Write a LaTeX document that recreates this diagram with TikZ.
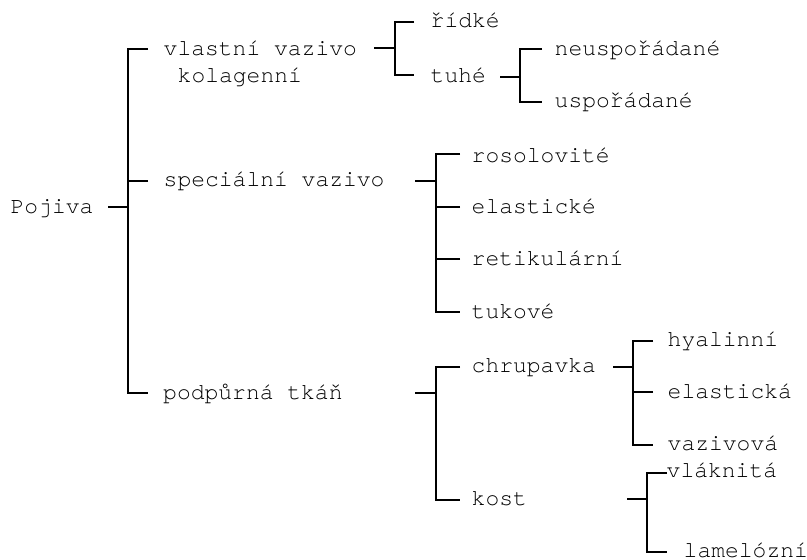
\documentclass[tikz,border=0pt]{standalone}
\usepackage{fontspec}
\newfontfamily\treemono{TeX Gyre Cursor}
\begin{document}
\begin{tikzpicture}[x=1pt,y=-1pt,
  lbl/.style={anchor=base west,inner sep=0pt,font=\treemono\fontsize{23}{27}\selectfont},
  br/.style={line width=1.8pt,line join=miter}]
\useasboundingbox (0,0) rectangle (807,560);
% ---------- labels ----------
\node[lbl] (pojiva) at (10.5,213) {Pojiva};
\node[lbl] (vlastni) at (163.5,55) {vlastní vazivo};
\node[lbl] (kolag) at (177.5,82) {kolagenní};
\node[lbl] (special) at (163.5,186) {speciální vazivo};
\node[lbl] (podpur) at (163,399) {podpůrná tkáň};
\node[lbl] (ridke) at (430.5,27) {řídké};
\node[lbl] (tuhe) at (430.5,82) {tuhé};
\node[lbl] (neusp) at (554.5,55) {neuspořádané};
\node[lbl] (usp) at (554.5,107) {uspořádané};
\node[lbl] (rosol) at (471.5,162) {rosolovité};
\node[lbl] (elastic) at (471.5,213) {elastické};
\node[lbl] (retik) at (471.5,265) {retikulární};
\node[lbl] (tukove) at (471.5,318) {tukové};
\node[lbl] (chrup) at (471.5,372) {chrupavka};
\node[lbl] (kost) at (471.5,505) {kost};
\node[lbl] (hyal) at (667.5,346) {hyalinní};
\node[lbl] (elasta) at (667.5,398) {elastická};
\node[lbl] (vaziv) at (667.5,450) {vazivová};
\node[lbl] (vlakn) at (666.5,477) {vláknitá};
\node[lbl] (lamel) at (683.5,557) {lamelózní};
% ---------- junction coordinates ----------
% level 0
\coordinate (a0) at (108,207);
\coordinate (a1) at (128,207);
\coordinate (a2) at (148,49);
\coordinate (a3) at (148,181);
\coordinate (a4) at (148,393);
% vlastni vazivo
\coordinate (b0) at (374,48);
\coordinate (b1) at (395,48);
\coordinate (b2) at (414,22);
\coordinate (b3) at (414,75);
% tuhe
\coordinate (c0) at (500,77);
\coordinate (c1) at (520,77);
\coordinate (c2) at (542,49);
\coordinate (c3) at (542,102);
% specialni vazivo
\coordinate (d0) at (415,181);
\coordinate (d1) at (436,181);
\coordinate (d2) at (460,154);
\coordinate (d3) at (460,207);
\coordinate (d4) at (460,259);
\coordinate (d5) at (460,312);
% podpurna tkan
\coordinate (e0) at (415,393);
\coordinate (e1) at (436,393);
\coordinate (e2) at (460,367);
\coordinate (e3) at (460,500);
% chrupavka
\coordinate (f0) at (613,367);
\coordinate (f1) at (633,367);
\coordinate (f2) at (653,341);
\coordinate (f3) at (653,392);
\coordinate (f4) at (653,445);
% kost
\coordinate (g0) at (627,499);
\coordinate (g1) at (647,499);
\coordinate (g2) at (667,473);
\coordinate (g3) at (667,552);
% ---------- branches ----------
\draw[br] (a0) -- (a1);
\draw[br] (a2) -| (a1 |- a4) -- (a4);
\draw[br] (a3) -- (a1 |- a3);

\draw[br] (b0) -- (b1);
\draw[br] (b2) -| (b1 |- b3) -- (b3);

\draw[br] (c0) -- (c1);
\draw[br] (c2) -| (c1 |- c3) -- (c3);

\draw[br] (d0) -- (d1);
\draw[br] (d2) -| (d1 |- d5) -- (d5);
\draw[br] (d3) -- (d1 |- d3);
\draw[br] (d4) -- (d1 |- d4);

\draw[br] (e0) -- (e1);
\draw[br] (e2) -| (e1 |- e3) -- (e3);

\draw[br] (f0) -- (f1);
\draw[br] (f2) -| (f1 |- f4) -- (f4);
\draw[br] (f3) -- (f1 |- f3);

\draw[br] (g0) -- (g1);
\draw[br] (g2) -| (g1 |- g3) -- (g3);
\end{tikzpicture}
\end{document}
